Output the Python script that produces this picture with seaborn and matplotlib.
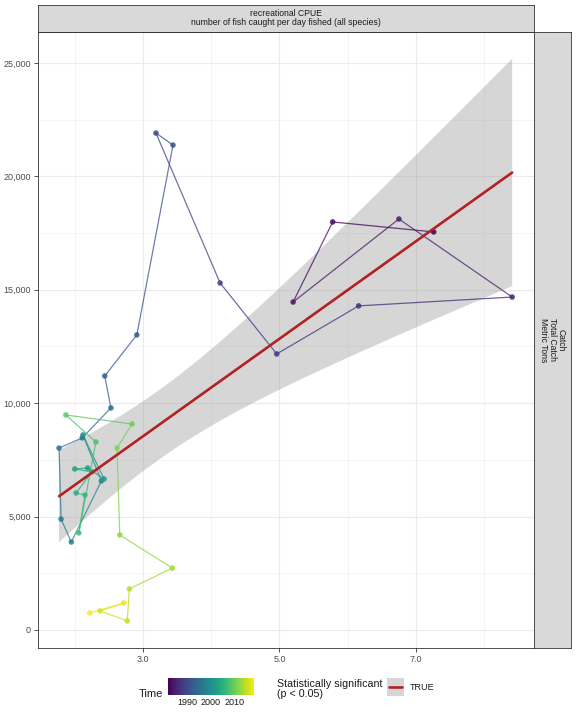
import numpy as np
import pandas as pd
import matplotlib
matplotlib.use("Agg")
import matplotlib.pyplot as plt
import seaborn as sns
from matplotlib.ticker import FixedLocator, FuncFormatter
from matplotlib.colors import Normalize
from matplotlib.cm import ScalarMappable

# recreational CPUE vs total catch, one point per year
years = list(range(1982, 2019))
cpue = [7.26, 5.78, 5.20, 6.75, 8.41, 6.16, 4.96, 4.13, 3.19, 3.44,
        2.91, 2.44, 2.53, 2.11, 1.77, 1.80, 1.95, 2.39, 2.12, 2.43,
        2.19, 2.00, 2.25, 2.02, 2.15, 2.06, 2.31, 1.87, 2.84, 2.62,
        2.66, 3.43, 2.80, 2.77, 2.37, 2.72, 2.22]
catch = [17550, 17990, 14460, 18120, 14680, 14290, 12170, 15300, 21910, 21380,
         13010, 11200, 9790, 8470, 8020, 4890, 3880, 6570, 8600, 6660,
         7140, 7100, 6970, 6040, 5950, 4280, 8290, 9480, 9080, 8020,
         4190, 2730, 1810, 400, 840, 1190, 750]

df = pd.DataFrame({"year": years, "cpue": cpue, "catch": catch})

sns.set_theme(style="white")
plt.rcParams["font.family"] = ["Liberation Sans", "DejaVu Sans"]

dark = "#333333"
red = "#B22222"
cmap = plt.get_cmap("viridis")
norm = Normalize(min(years), max(years))

fig = plt.figure(figsize=(5.76, 7.2), dpi=100)
ax = fig.add_axes([0.066, 0.1, 0.861, 0.8556])

# linear fit line
sns.regplot(data=df, x="cpue", y="catch", scatter=False, ci=None,
            color=red, line_kws={"lw": 1.9, "zorder": 5}, ax=ax)

# analytic 95% confidence band of the linear fit (like geom_smooth(method = "lm"))
x = df.cpue.to_numpy()
y = df.catch.to_numpy()
n = len(x)
slope, icpt = np.polyfit(x, y, 1)
resid = y - (icpt + slope * x)
s_err = np.sqrt(np.sum(resid ** 2) / (n - 2))
t_crit = 2.030  # t(0.975, df = 35)
grid = np.linspace(x.min(), x.max(), 80)
fit = icpt + slope * grid
se = s_err * np.sqrt(1 / n + (grid - x.mean()) ** 2 / np.sum((x - x.mean()) ** 2))
ax.fill_between(grid, fit - t_crit * se, fit + t_crit * se, facecolor="#999999",
                alpha=0.4, edgecolor="none", zorder=1)

# path through the years, each segment coloured by its start year
for i in range(n - 1):
    ax.plot(df.cpue[i:i + 2], df.catch[i:i + 2], color=cmap(norm(df.year[i])),
            lw=0.9, alpha=0.75, zorder=2)

sns.scatterplot(data=df, x="cpue", y="catch", hue="year", palette="viridis",
                hue_norm=(min(years), max(years)), s=16, linewidth=0,
                alpha=0.85, legend=False, ax=ax, zorder=3)

ax.set_xlim(1.462, 8.729)
ax.set_ylim(-794, 26366)
ax.set_xlabel("")
ax.set_ylabel("")

ax.xaxis.set_major_locator(FixedLocator([3, 5, 7]))
ax.xaxis.set_minor_locator(FixedLocator([2, 4, 6, 8]))
ax.yaxis.set_major_locator(FixedLocator(range(0, 25001, 5000)))
ax.yaxis.set_minor_locator(FixedLocator(range(2500, 25001, 5000)))
ax.xaxis.set_major_formatter(FuncFormatter(lambda v, p: f"{v:.1f}"))
ax.yaxis.set_major_formatter(FuncFormatter(lambda v, p: f"{int(v):,}"))
ax.grid(which="major", color="#EBEBEB", lw=0.8, zorder=0)
ax.grid(which="minor", color="#F0F0F0", lw=0.5, zorder=0)
ax.set_axisbelow(True)
ax.tick_params(which="major", length=3, width=0.6, color=dark, labelsize=6.5,
               labelcolor="#4D4D4D", pad=2, bottom=True, left=True)
ax.tick_params(which="minor", length=0)
for s in ax.spines.values():
    s.set_color(dark)
    s.set_linewidth(0.6)

# facet strips
top = fig.add_axes([0.066, 0.9556, 0.861, 0.0375])
right = fig.add_axes([0.927, 0.1, 0.0642, 0.8556])
for st in (top, right):
    st.set_facecolor("#D9D9D9")
    st.set_xticks([])
    st.set_yticks([])
    for s in st.spines.values():
        s.set_color(dark)
        s.set_linewidth(0.6)
top.text(0.5, 0.5, "recreational CPUE\nnumber of fish caught per day fished (all species)",
         ha="center", va="center", fontsize=6.2, color="#1A1A1A", linespacing=1.0,
         transform=top.transAxes)
right.text(0.5, 0.5, "Catch\nTotal Catch\nMetric Tons", rotation=270,
           ha="center", va="center", multialignment="center", fontsize=6.2,
           color="#1A1A1A", linespacing=1.0, transform=right.transAxes)

# colour bar legend
cax = fig.add_axes([168 / 576, 1 - 695 / 720, 86 / 576, 17 / 720])
cb = fig.colorbar(ScalarMappable(norm=norm, cmap=cmap), cax=cax, orientation="horizontal")
cb.set_ticks([1990, 2000, 2010])
cb.outline.set_visible(False)
cax.tick_params(direction="in", color="white", length=3, width=0.5, top=True,
                labelsize=6.5, labelcolor="#1A1A1A", pad=2.5)
fig.text(163 / 576, 1 - 694 / 720, "Time", ha="right", va="center", fontsize=8,
         color="#1A1A1A")

# significance legend
fig.text(277 / 576, 1 - 689 / 720, "Statistically significant\n(p < 0.05)",
         ha="left", va="center", fontsize=7.7, color="#1A1A1A", linespacing=1.0)
kax = fig.add_axes([387 / 576, 1 - 696 / 720, 17 / 576, 18 / 720])
kax.set_facecolor("#D6D6D6")
kax.set_xticks([])
kax.set_yticks([])
for s in kax.spines.values():
    s.set_visible(False)
kax.axhline(0.5, xmin=0.1, xmax=0.9, color=red, lw=1.9)
fig.text(410 / 576, 1 - 688 / 720, "TRUE", ha="left", va="center", fontsize=6.5,
         color="#1A1A1A")

fig.savefig("out.png", dpi=100)
